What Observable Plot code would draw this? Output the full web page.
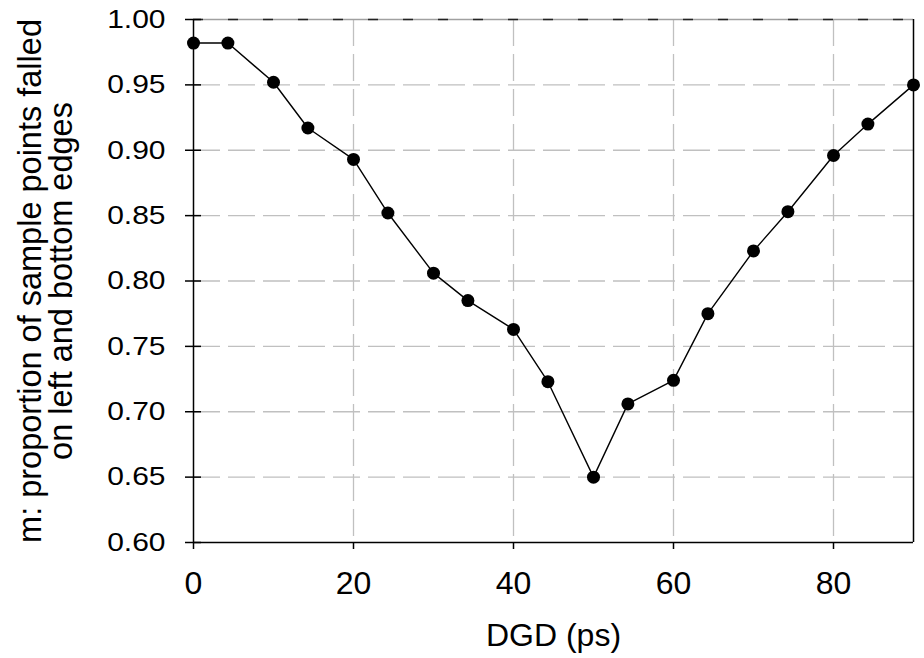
<!DOCTYPE html>
<html>
<head>
<meta charset="utf-8">
<script src="https://cdn.jsdelivr.net/npm/d3@7"></script>
<script src="https://cdn.jsdelivr.net/npm/@observablehq/plot@0.6"></script>
<style>
  html, body { margin: 0; padding: 0; background: #fff; }
  svg { font-family: "Liberation Sans", Arial, sans-serif; }
</style>
</head>
<body>
<div id="chart"></div>
<script>
const dgd = [0, 4.3, 10, 14.3, 20, 24.3, 30, 34.3, 40, 44.3, 50, 54.3, 60, 64.3, 70, 74.3, 80, 84.3, 90];
const m = [0.982, 0.982, 0.952, 0.917, 0.893, 0.852, 0.806, 0.785, 0.763, 0.723, 0.650, 0.706, 0.724, 0.775, 0.823, 0.853, 0.896, 0.920, 0.950];
const xTicks = [0, 20, 40, 60, 80];
const xGrid = [20, 40, 60, 80];
const yTicks = [0.60, 0.65, 0.70, 0.75, 0.80, 0.85, 0.90, 0.95, 1.00];
const yGrid = [0.65, 0.70, 0.75, 0.80, 0.85, 0.90, 0.95];
const xLabel = "DGD (ps)";
const yLabel = "m: proportion of sample points falled\non left and bottom edges";

const data = dgd.map((x, i) => ({x, y: m[i]}));

const chart = Plot.plot({
  width: 924,
  height: 658,
  marginLeft: 193,
  marginRight: 11,
  marginTop: 19,
  marginBottom: 116,
  style: {fontFamily: "Liberation Sans, Arial, sans-serif", background: "#fff", color: "#000"},
  x: {domain: [0, 90], label: null},
  y: {domain: [0.6, 1.0], label: null},
  marks: [
    Plot.ruleX(xGrid, {stroke: "#c0c0c0", strokeWidth: 1.3, strokeDasharray: "27,8"}),
    Plot.ruleY(yGrid, {stroke: "#c0c0c0", strokeWidth: 1.3, strokeDasharray: "27,8"}),
    Plot.ruleY([1.0], {stroke: "#a0a0a0", strokeWidth: 1.3}),
    Plot.ruleY([1.0], {stroke: "#222", strokeWidth: 1.3, strokeDasharray: "10,25"}),
    Plot.ruleX([90], {stroke: "#000", strokeWidth: 1.5}),
    Plot.ruleX([0], {stroke: "#000", strokeWidth: 1.5}),
    Plot.ruleY([0.6], {stroke: "#000", strokeWidth: 1.5}),
    Plot.axisX(xTicks, {tickSize: 7, tickPadding: 22, fontSize: 32, tickFormat: d => String(d), label: null, stroke: "#000", strokeWidth: 1.5}),
    Plot.axisY(yTicks, {tickSize: 16, dx: 8, tickFormat: () => "", label: null, stroke: "#000", strokeWidth: 1.5}),
    Plot.axisY(yTicks, {tickSize: 0, tickPadding: 28, fontSize: 30, tickFormat: d => d.toFixed(2), label: null}),
    Plot.line(data, {x: "x", y: "y", stroke: "#000", strokeWidth: 1.4}),
    Plot.dot(data, {x: "x", y: "y", r: 6.5, fill: "#000", stroke: "none"}),
    Plot.text([xLabel], {frameAnchor: "bottom", text: d => d, fontSize: 32, dy: 103, lineAnchor: "bottom", fill: "#000"}),
    Plot.text([yLabel], {frameAnchor: "left", text: d => d, rotate: -90, textAnchor: "middle", fontSize: 32.5, lineHeight: 0.97, dx: -147, fill: "#000"})
  ]
});

document.getElementById("chart").appendChild(chart);

// y tick labels in the reference are vertically squat
chart.querySelectorAll('g[aria-label="y-axis tick label"] text').forEach(t => {
  const tr = t.getAttribute("transform") || "";
  t.setAttribute("transform", tr + " scale(1,0.86)");
});
</script>
</body>
</html>
